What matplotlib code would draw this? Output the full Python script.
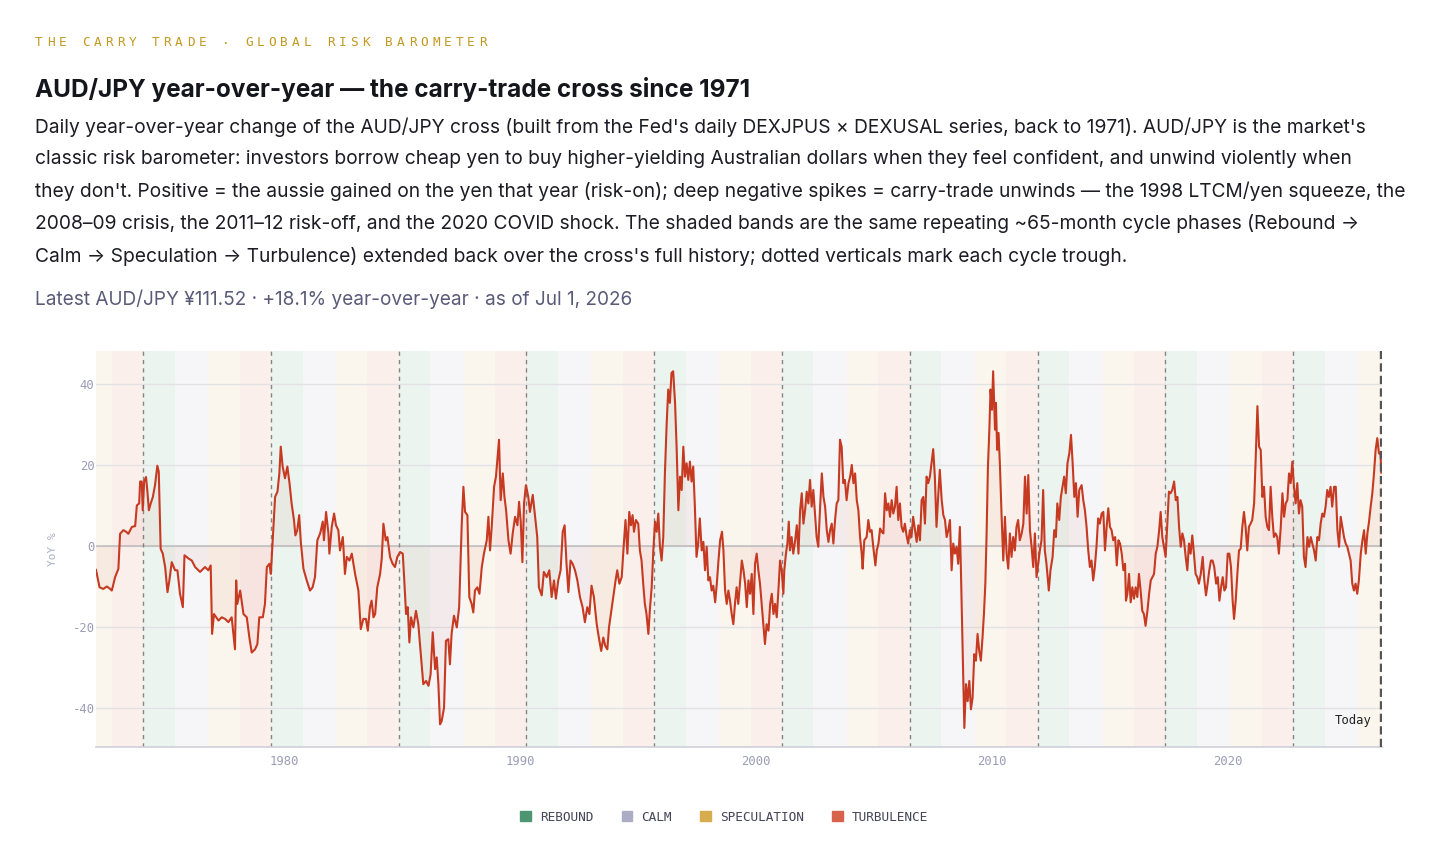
import matplotlib
matplotlib.use("Agg")
import matplotlib.pyplot as plt
from matplotlib.patches import Patch

# ---- AUD/JPY year-over-year % (decimal year, value) ----
yrs_1970s = [
    1972.03, 1972.18, 1972.34, 1972.49, 1972.63, 1972.70, 1972.84, 1972.98,
    1973.05, 1973.19, 1973.31, 1973.40, 1973.55, 1973.69, 1973.76, 1973.86, 1973.90, 1973.97,
    1974.01, 1974.07, 1974.15, 1974.21, 1974.27, 1974.35, 1974.44, 1974.53, 1974.63, 1974.69, 1974.77, 1974.86, 1974.96,
    1975.06, 1975.14, 1975.24, 1975.38, 1975.48, 1975.59, 1975.71, 1975.78, 1975.95,
    1976.09, 1976.23, 1976.44, 1976.65, 1976.79, 1976.89, 1976.95,
    1977.03, 1977.22, 1977.36, 1977.50, 1977.64, 1977.78, 1977.92, 1977.97,
    1978.02, 1978.14, 1978.28, 1978.42, 1978.53, 1978.63, 1978.77, 1978.87, 1978.95,
    1979.10, 1979.19, 1979.27, 1979.38, 1979.44, 1979.51, 1979.62, 1979.72, 1979.80, 1979.86, 1979.94,
]
yoy_1970s = [
    -5.9, -10.2, -10.6, -10.0, -10.6, -11.0, -7.7, -5.6,
    3.0, 3.9, 3.5, 3.0, 4.7, 4.9, 10.0, 10.5, 15.9, 15.9,
    8.8, 15.9, 17.0, 13.4, 8.8, 10.5, 12.1, 15.0, 19.8, 18.3, -0.7, -1.9, -5.2,
    -11.4, -8.5, -4.0, -6.0, -6.0, -11.8, -15.1, -2.3, -3.1,
    -3.6, -5.2, -6.4, -5.2, -6.0, -4.8, -21.7,
    -16.8, -18.4, -17.6, -18.0, -18.8, -17.6, -25.5, -8.5,
    -14.3, -11.0, -16.8, -17.6, -22.6, -26.3, -25.5, -24.2, -17.6,
    -17.6, -14.3, -5.2, -4.4, -6.9, 0.6, 12.1, 13.4, 17.9, 24.5, 19.6,
]

yrs_1980s = [
    1980.04, 1980.14, 1980.23, 1980.32, 1980.42, 1980.48, 1980.56, 1980.64, 1980.71, 1980.82, 1980.96,
    1981.10, 1981.21, 1981.31, 1981.41, 1981.53, 1981.64, 1981.69, 1981.78, 1981.88, 1981.92,
    1982.02, 1982.12, 1982.20, 1982.30, 1982.37, 1982.49, 1982.58, 1982.66, 1982.77, 1982.87,
    1983.01, 1983.15, 1983.25, 1983.36, 1983.47, 1983.55, 1983.64, 1983.71, 1983.79, 1983.86, 1983.95,
    1984.07, 1984.14, 1984.21, 1984.31, 1984.38, 1984.49, 1984.60, 1984.70, 1984.80, 1984.92,
    1985.03, 1985.08, 1985.17, 1985.24, 1985.31, 1985.38, 1985.48, 1985.59, 1985.69, 1985.79, 1985.90,
    1986.02, 1986.12, 1986.21, 1986.30, 1986.40, 1986.47, 1986.54, 1986.61, 1986.68, 1986.78, 1986.86, 1986.96,
    1987.03, 1987.10, 1987.20, 1987.32, 1987.42, 1987.53, 1987.60, 1987.67, 1987.77, 1987.85, 1987.95,
    1988.02, 1988.09, 1988.19, 1988.28, 1988.38, 1988.47, 1988.59, 1988.66, 1988.73, 1988.80, 1988.90, 1988.98,
    1989.04, 1989.11, 1989.18, 1989.27, 1989.34, 1989.41, 1989.51, 1989.60, 1989.69, 1989.79, 1989.89, 1989.96,
]
yoy_1980s = [
    16.7, 19.6, 15.5, 10.5, 6.4, 2.6, 3.9, 7.6, 1.0, -5.6, -8.5,
    -11.0, -10.2, -7.7, 1.4, 3.1, 6.0, 1.4, 8.4, 3.1, -1.9,
    4.7, 8.0, 5.1, 3.9, -1.1, 2.2, -6.9, -2.7, -3.6, -1.9,
    -6.9, -11.0, -20.5, -18.0, -18.0, -20.9, -15.1, -13.5, -17.6, -16.8, -10.2,
    -6.9, -3.1, 5.5, 1.4, 2.2, -2.7, -4.4, -5.2, -2.7, -1.5,
    -1.9, -6.9, -16.8, -15.1, -23.8, -17.6, -20.1, -16.0, -19.3, -26.3, -34.1,
    -33.3, -34.5, -31.7, -21.3, -30.4, -27.5, -34.1, -44.0, -43.2, -39.9, -23.4, -23.0,
    -29.2, -21.7, -17.2, -20.1, -15.1, 5.5, 14.6, 8.4, 7.6, -12.6, -14.3,
    -16.4, -11.0, -10.2, -11.8, -5.2, -1.9, 1.4, 7.2, -1.1, 4.7, 14.6, 17.1,
    21.2, 26.2, 11.3, 17.9, 12.1, 8.8, 1.4, -1.9, 3.1, 7.2, 5.1, 10.9,
]

yrs_1990s = [
    1990.03, 1990.10, 1990.17, 1990.25, 1990.35, 1990.42, 1990.54, 1990.64, 1990.73, 1990.80, 1990.92,
    1991.01, 1991.13, 1991.24, 1991.34, 1991.44, 1991.52, 1991.62, 1991.72, 1991.81, 1991.89, 1991.97,
    1992.05, 1992.14, 1992.23, 1992.33, 1992.43, 1992.54, 1992.65, 1992.75, 1992.85, 1992.94,
    1993.03, 1993.13, 1993.25, 1993.34, 1993.44, 1993.53, 1993.61, 1993.70, 1993.77, 1993.85, 1993.95,
    1994.05, 1994.12, 1994.21, 1994.31, 1994.40, 1994.47, 1994.55, 1994.63, 1994.70, 1994.77, 1994.83, 1994.91,
    1995.01, 1995.08, 1995.15, 1995.22, 1995.29, 1995.36, 1995.44, 1995.51, 1995.58, 1995.65, 1995.72, 1995.79, 1995.86, 1995.93,
    1996.00, 1996.07, 1996.14, 1996.21, 1996.28, 1996.35, 1996.42, 1996.49, 1996.57, 1996.64, 1996.71, 1996.78, 1996.85, 1996.92, 1996.99,
    1997.06, 1997.13, 1997.20, 1997.27, 1997.34, 1997.41, 1997.48, 1997.55, 1997.62, 1997.70, 1997.77, 1997.84, 1997.91, 1997.98,
    1998.05, 1998.12, 1998.19, 1998.27, 1998.34, 1998.41, 1998.48, 1998.56, 1998.62, 1998.69, 1998.76, 1998.83, 1998.90, 1998.97,
    1999.04, 1999.11, 1999.18, 1999.25, 1999.32, 1999.40, 1999.47, 1999.54, 1999.61, 1999.68, 1999.75, 1999.82, 1999.89, 1999.96,
]
yoy_1990s = [
    6.0, -4.0, 10.5, 15.0, 12.1, 8.4, 12.6, 7.2, 2.2, -10.2, -12.2,
    -6.4, -7.7, -6.0, -12.6, -8.5, -13.0, -8.5, -6.0, 3.5, 5.1, -4.4,
    -11.4, -3.6, -4.4, -6.0, -8.5, -12.6, -15.1, -18.8, -15.1, -16.8,
    -9.8, -12.6, -19.3, -22.6, -25.9, -22.6, -24.6, -25.5, -20.1, -16.8, -12.6,
    -8.5, -6.0, -9.3, -7.7, 0.6, 6.4, -1.9, 8.4, 5.1, 7.6, 3.5, 6.4,
    5.5, -1.1, -3.6, -9.3, -14.3, -16.8, -21.7, -15.1, -10.2, -1.1, 6.0, 3.5, 8.0, -0.2,
    -3.6, 2.2, 17.9, 29.5, 38.6, 35.3, 42.7, 43.1, 35.3, 23.7, 8.8, 17.1, 13.8, 24.5, 17.1,
    20.4, 16.3, 20.8, 15.9, 19.6, 9.7, -2.7, 0.6, 6.8, -1.1, 1.0, -6.0, -0.2, -8.5,
    -7.7, -11.0, -9.8, -13.9, -9.3, -3.6, 1.4, 3.5, -1.1, -11.0, -14.3, -11.0, -13.5, -16.8,
    -19.3, -14.3, -10.2, -14.3, -9.3, -3.6, -6.0, -9.3, -15.1, -8.5, -11.8, -6.9, -16.8, -4.4,
]

yrs_2000s = [
    2000.03, 2000.10, 2000.17, 2000.24, 2000.31, 2000.38, 2000.45, 2000.53, 2000.60, 2000.67, 2000.74, 2000.81, 2000.88, 2000.95,
    2001.02, 2001.09, 2001.16, 2001.20, 2001.27, 2001.33, 2001.39, 2001.44, 2001.51, 2001.58, 2001.66, 2001.73, 2001.80, 2001.87, 2001.94,
    2002.01, 2002.08, 2002.15, 2002.22, 2002.29, 2002.36, 2002.43, 2002.50, 2002.57, 2002.64, 2002.71, 2002.79, 2002.86, 2002.93,
    2003.00, 2003.07, 2003.14, 2003.21, 2003.28, 2003.35, 2003.42, 2003.49, 2003.56, 2003.63, 2003.70, 2003.77, 2003.84, 2003.92, 2003.99,
    2004.06, 2004.13, 2004.20, 2004.27, 2004.34, 2004.41, 2004.48, 2004.52, 2004.59, 2004.69, 2004.76, 2004.83, 2004.90, 2004.97,
    2005.06, 2005.12, 2005.19, 2005.26, 2005.33, 2005.40, 2005.47, 2005.54, 2005.61, 2005.68, 2005.75, 2005.82, 2005.89, 2005.96,
    2006.03, 2006.10, 2006.17, 2006.24, 2006.31, 2006.38, 2006.45, 2006.52, 2006.59, 2006.66, 2006.74, 2006.81, 2006.88, 2006.95,
    2007.02, 2007.09, 2007.16, 2007.23, 2007.30, 2007.37, 2007.51, 2007.58, 2007.65, 2007.72, 2007.79, 2007.87, 2007.94,
    2008.01, 2008.08, 2008.15, 2008.22, 2008.29, 2008.36, 2008.43, 2008.50, 2008.57, 2008.64, 2008.68, 2008.76, 2008.83, 2008.90, 2008.97,
    2009.04, 2009.11, 2009.18, 2009.25, 2009.32, 2009.39, 2009.46, 2009.53, 2009.60, 2009.66, 2009.72, 2009.77, 2009.83, 2009.89, 2009.94,
]
yoy_2000s = [
    -1.9, -6.0, -9.3, -14.3, -19.3, -24.2, -19.3, -20.9, -14.3, -11.8, -16.8, -14.3, -17.6, -11.0,
    -3.6, -6.0, -11.8, -6.0, -1.9, 0.6, 6.0, -1.1, 2.2, -1.9, 1.4, 5.1, -1.9, 8.8, 13.0,
    5.5, 8.8, 13.4, 10.5, 16.3, 9.7, 13.8, 8.0, 2.2, -0.2, 8.8, 17.9, 12.1, 9.7,
    3.9, 1.0, 3.9, 5.5, 0.6, 6.4, 10.5, 11.3, 26.2, 24.5, 15.5, 16.3, 11.3, 15.5, 17.1,
    20.0, 15.5, 17.9, 11.3, 8.8, 2.2, -1.9, -5.6, 1.4, 2.2, 6.4, 3.5, 3.9, -0.2,
    -4.8, -1.1, 0.6, 4.3, 3.5, 3.1, 13.0, 8.8, 10.5, 7.2, 11.3, 8.0, 9.7, 14.6,
    6.4, 10.5, 4.7, 3.5, 5.5, 2.6, 0.6, 3.9, 2.2, 7.2, 3.9, 1.0, 5.1, 1.4,
    11.3, 12.1, 5.5, 17.1, 15.5, 17.1, 23.9, 17.1, 4.7, 12.1, 18.8, 11.3, 7.6,
    6.4, 2.2, 3.9, 6.4, -6.0, 0.6, -1.9, -0.2, -4.4, 4.7, -4.8, -25.9, -44.9, -34.1, -38.3,
    -33.3, -40.3, -37.4, -26.7, -28.3, -21.7, -25.9, -28.3, -22.6, -16.8, -9.3, 2.2, 19.6, 28.7, 38.6,
]

yrs_2010s = [
    2010.00, 2010.05, 2010.13, 2010.17, 2010.22, 2010.28, 2010.34, 2010.41, 2010.48, 2010.55, 2010.62, 2010.69, 2010.76, 2010.83, 2010.90, 2010.97,
    2011.04, 2011.11, 2011.18, 2011.26, 2011.33, 2011.40, 2011.47, 2011.54, 2011.61, 2011.68, 2011.75, 2011.82, 2011.89, 2011.96,
    2012.03, 2012.10, 2012.17, 2012.24, 2012.31, 2012.41, 2012.48, 2012.57, 2012.64, 2012.71, 2012.77, 2012.85, 2012.92, 2012.99,
    2013.06, 2013.13, 2013.20, 2013.28, 2013.35, 2013.42, 2013.49, 2013.56, 2013.63, 2013.70, 2013.80, 2013.87, 2013.94,
    2014.01, 2014.08, 2014.15, 2014.22, 2014.29, 2014.36, 2014.43, 2014.50, 2014.57, 2014.65, 2014.72, 2014.79, 2014.86, 2014.93,
    2015.00, 2015.07, 2015.14, 2015.22, 2015.29, 2015.36, 2015.43, 2015.50, 2015.57, 2015.64, 2015.68, 2015.74, 2015.81, 2015.88, 2015.95,
    2016.02, 2016.09, 2016.16, 2016.23, 2016.30, 2016.37, 2016.44, 2016.51, 2016.59, 2016.66, 2016.73, 2016.80, 2016.87, 2016.94,
    2017.01, 2017.08, 2017.15, 2017.22, 2017.29, 2017.36, 2017.43, 2017.50, 2017.57, 2017.64, 2017.72, 2017.79, 2017.86, 2017.93,
    2018.00, 2018.07, 2018.14, 2018.21, 2018.28, 2018.35, 2018.42, 2018.49, 2018.56, 2018.63, 2018.70, 2018.77, 2018.85, 2018.93,
    2019.00, 2019.07, 2019.14, 2019.21, 2019.28, 2019.35, 2019.42, 2019.50, 2019.57, 2019.64, 2019.71, 2019.78, 2019.85, 2019.92, 2019.99,
]
yoy_2010s = [
    33.6, 43.1, 28.7, 35.3, 23.7, 27.9, 19.6, 7.2, -3.6, 7.2, -1.9, -5.6, 3.1, -2.7, 2.2, -1.1,
    4.7, 6.4, 1.4, 3.1, 5.5, 17.1, 8.0, 17.5, 3.9, -0.2, -5.2, 3.1, -7.7, -4.4,
    -1.1, 1.4, 13.8, -1.1, -4.4, -11.0, -6.0, -2.7, 3.9, 2.2, 10.5, 6.4, 12.1, 14.6,
    17.1, 13.0, 20.4, 22.9, 27.4, 20.4, 12.1, 15.5, 7.2, 13.8, 15.0, 11.3, 8.8,
    4.7, -1.1, -5.2, -3.6, -8.5, -5.2, -0.2, 6.8, 5.5, 8.0, 8.4, -1.1, 4.7, 9.3,
    4.7, 3.9, 1.4, 2.2, -4.8, 1.4, 0.6, -1.9, -6.0, -4.4, -13.5, -11.8, -6.9, -13.9, -10.2,
    -13.0, -10.2, -12.6, -6.9, -11.0, -16.0, -16.8, -19.7, -16.0, -11.8, -8.5, -7.7, -6.9, -1.9,
    -0.2, 3.5, 8.4, 2.2, -0.2, -2.7, 5.5, 13.4, 13.0, 13.8, 15.9, 11.3, 12.1, 4.7,
    -0.2, 3.1, 1.4, -2.7, -6.0, 0.6, -1.9, 2.6, -1.9, -6.9, -7.7, -9.3, -6.9, -2.7,
    -8.5, -12.2, -9.3, -6.0, -3.6, -3.6, -5.2, -9.3, -7.7, -13.5, -10.2, -7.7, -11.0, -10.2, -1.9,
]

yrs_2020s = [
    2020.06, 2020.13, 2020.20, 2020.26, 2020.33, 2020.40, 2020.47, 2020.54, 2020.61, 2020.68, 2020.75, 2020.82, 2020.89, 2020.96,
    2021.03, 2021.11, 2021.18, 2021.25, 2021.32, 2021.39, 2021.46, 2021.53, 2021.60, 2021.67, 2021.74, 2021.81, 2021.88, 2021.95,
    2022.02, 2022.09, 2022.16, 2022.24, 2022.31, 2022.38, 2022.45, 2022.52, 2022.59, 2022.66, 2022.73, 2022.80, 2022.87, 2022.94,
    2023.01, 2023.08, 2023.15, 2023.22, 2023.29, 2023.37, 2023.44, 2023.51, 2023.58, 2023.65, 2023.72, 2023.79, 2023.86, 2023.93,
    2024.00, 2024.07, 2024.14, 2024.21, 2024.28, 2024.35, 2024.42, 2024.50, 2024.57, 2024.64, 2024.71, 2024.78, 2024.85, 2024.92, 2024.99,
    2025.06, 2025.13, 2025.20, 2025.27, 2025.34, 2025.41, 2025.48, 2025.55, 2025.63, 2025.70, 2025.77, 2025.84, 2025.91, 2025.98,
    2026.05, 2026.12, 2026.19, 2026.26, 2026.33, 2026.40, 2026.47, 2026.50,
]
yoy_2020s = [
    -1.9, -5.2, -13.5, -18.0, -13.5, -6.9, -1.1, -0.7, 4.7, 8.4, 4.7, -1.1, 4.7, 5.5,
    6.4, 10.5, 22.1, 34.5, 24.5, 23.7, 12.1, 14.6, 7.2, 4.7, 3.9, 14.6, 7.2, 2.2,
    3.1, 2.2, -1.9, 4.7, 13.0, 7.2, 10.5, 11.3, 17.9, 15.5, 20.8, 14.6, 10.5, 15.5,
    8.0, 11.3, 9.7, -2.7, -5.2, 2.2, -0.2, 2.2, 0.6, -1.1, -3.6, 2.2, 1.4, 5.5,
    8.0, 7.2, 9.7, 13.8, 12.1, 14.6, 9.7, 14.6, 14.6, 3.9, -0.2, 7.2, 4.7, 2.2, 0.6,
    -0.2, -1.9, -3.6, -9.3, -11.0, -9.3, -11.8, -8.5, -1.9, 1.4, 3.9, -1.9, 3.1, 6.0,
    9.7, 13.0, 17.9, 23.7, 26.6, 22.9, 22.5, 18.1,
]

# cycle troughs (~65-month cycle) and phase lengths in months
troughs = [1974.03, 1979.45, 1984.86, 1990.27, 1995.69, 2001.10, 2006.52, 2011.94, 2017.35, 2022.77]
phase_names = ["REBOUND", "CALM", "SPECULATION", "TURBULENCE"]
phase_months = [16, 17, 16, 16]
phase_colors = ["#4e9672", "#acacc4", "#d5ad4f", "#d8634c"]
today = 2026.50
x_start = 1972.03

years = yrs_1970s + yrs_1980s + yrs_1990s + yrs_2000s + yrs_2010s + yrs_2020s
yoy = yoy_1970s + yoy_1980s + yoy_1990s + yoy_2000s + yoy_2010s + yoy_2020s

SANS = ["Inter", "DejaVu Sans"]
MONO = ["DejaVu Sans Mono"]
plt.rcParams["axes.unicode_minus"] = False

W, H = 1456, 863
fig = plt.figure(figsize=(W / 100, H / 100), dpi=100)
fig.patch.set_facecolor("white")


def fx(px):
    return px / W


def fy(py):
    return 1 - py / H


# header: letter-spaced kicker
kicker = "THE CARRY TRADE · GLOBAL RISK BAROMETER"
for i, ch in enumerate(kicker):
    fig.text(fx(35 + i * 11.68), fy(43), ch, family=MONO, fontsize=9.2,
             color="#c29a22", va="center", ha="left")

fig.text(fx(35), fy(90), "AUD/JPY year-over-year — the carry-trade cross since 1971",
         family=SANS, fontsize=17.5, weight="bold", color="#15151c", va="center")

body = [
    "Daily year-over-year change of the AUD/JPY cross (built from the Fed's daily DEXJPUS × DEXUSAL series, back to 1971). AUD/JPY is the market's",
    "classic risk barometer: investors borrow cheap yen to buy higher-yielding Australian dollars when they feel confident, and unwind violently when",
    "they don't. Positive = the aussie gained on the yen that year (risk-on); deep negative spikes = carry-trade unwinds — the 1998 LTCM/yen squeeze, the",
    "2008–09 crisis, the 2011–12 risk-off, and the 2020 COVID shock. The shaded bands are the same repeating ~65-month cycle phases (Rebound →",
    "Calm → Speculation → Turbulence) extended back over the cross's full history; dotted verticals mark each cycle trough.",
]
for i, line in enumerate(body):
    fig.text(fx(35), fy(127 + i * 32.3), line, family=SANS, fontsize=13.83,
             color="#1c1c24", va="center")

fig.text(fx(35), fy(299), "Latest AUD/JPY ¥111.52 · +18.1% year-over-year · as of Jul 1, 2026",
         family=SANS, fontsize=13.7, color="#5a5b78", va="center")

# ---- chart ----
ax = fig.add_axes([fx(96), fy(747), fx(1382) - fx(96), fy(351) - fy(747)])
ax.set_xlim(x_start, today + 0.03)
ax.set_ylim(-49.6, 48.1)

# phase bands, one cycle before the first trough through today
cycle_len = sum(phase_months) / 12
starts = [troughs[0] - cycle_len] + troughs
for s in starts:
    a = s
    for m, c in zip(phase_months, phase_colors):
        b = a + m / 12
        ax.axvspan(max(a, x_start), min(b, today + 0.03), color=c, alpha=0.1, lw=0, zorder=0)
        a = b

ax.yaxis.grid(True, color="#e2e2e4", lw=1.0, zorder=1)
ax.set_axisbelow(True)
ax.axhline(0, color="#c2c2c4", lw=1.2, zorder=1.5)

for t in troughs:
    ax.axvline(t, color="#858585", lw=1.0, ls=(0, (3, 3)), zorder=2)

ax.fill_between(years, yoy, 0, color="#c0392b", alpha=0.06, lw=0, zorder=2.5)
ax.plot(years, yoy, color="#c63a22", lw=1.5, zorder=3, solid_joinstyle="round")

ax.axvline(today, color="#555555", lw=1.7, ls=(0, (3.5, 1.8)), zorder=4)
ax.annotate("Today", xy=(today, 0.066), xycoords=("data", "axes fraction"),
            xytext=(-7, 0), textcoords="offset points", ha="right", va="center",
            family=MONO, fontsize=8.8, color="#222222")

ax.set_xticks([1980, 1990, 2000, 2010, 2020])
ax.set_yticks([-40, -20, 0, 20, 40])
ax.tick_params(axis="both", length=0, labelsize=8.8, labelcolor="#9c9cb8")
ax.tick_params(axis="y", pad=1)
ax.tick_params(axis="x", pad=6)
for lab in ax.get_xticklabels() + ax.get_yticklabels():
    lab.set_family(MONO)

ax.set_ylabel("YoY %", family=MONO, fontsize=8.0, color="#acacc4")
ax.yaxis.set_label_coords(-0.0295, 0.5)

for side in ["top", "right", "left"]:
    ax.spines[side].set_visible(False)
ax.spines["bottom"].set_color("#cfcfd8")
ax.spines["bottom"].set_linewidth(1.2)

handles = [Patch(facecolor=c, edgecolor=c) for c in phase_colors]
fig.legend(handles, phase_names, loc="center", bbox_to_anchor=(fx(724), fy(817)),
           ncol=4, frameon=False, prop={"family": MONO, "size": 9.2},
           labelcolor="#454558", handlelength=0.85, handleheight=0.85,
           handletextpad=0.7, columnspacing=2.2)

fig.savefig("out.png", dpi=100)
